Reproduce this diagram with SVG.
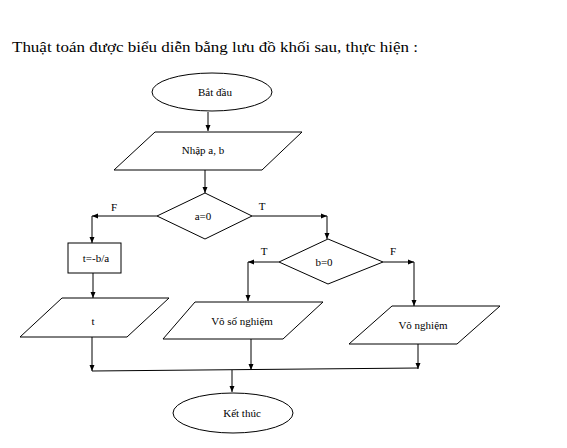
<svg xmlns="http://www.w3.org/2000/svg" width="567" height="448" viewBox="0 0 567 448">
<style>
.s{fill:#fff;stroke:#000;stroke-width:1}
.t{font-family:'Liberation Serif',serif;font-size:11px;fill:#000;text-anchor:middle}
.l{font-family:'Liberation Serif',serif;font-size:11px;fill:#000;text-anchor:middle}
.h{font-family:'Liberation Serif',serif;font-size:15px;fill:#000}
.c{fill:none;stroke:#000;stroke-width:1}
</style>
<defs>
<marker id="a" markerWidth="6" markerHeight="6" refX="6" refY="3" orient="auto" markerUnits="userSpaceOnUse">
<path d="M0,0.5 L6,3 L0,5.5 Z" fill="#000"/>
</marker>
</defs>
<rect width="567" height="448" fill="#fff"/>
<text class="h" x="12" y="52" textLength="406" lengthAdjust="spacingAndGlyphs">Thuật toán được biểu diễn bằng lưu đồ khối sau, thực hiện :</text>

<g id="connectors">
<path class="c" d="M208,112 V131" marker-end="url(#a)"/>
<path class="c" d="M205,170 V193" marker-end="url(#a)"/>
<path class="c" d="M157,216 H92"  marker-end="url(#a)"/>
<path class="c" d="M92,216 V243" marker-end="url(#a)"/>
<path class="c" d="M252,216 H327" marker-end="url(#a)"/>
<path class="c" d="M327,216 V239" marker-end="url(#a)"/>
<path class="c" d="M279,262 H248" marker-end="url(#a)"/>
<path class="c" d="M248,262 V301" marker-end="url(#a)"/>
<path class="c" d="M383,262 H414" marker-end="url(#a)"/>
<path class="c" d="M414,262 V306" marker-end="url(#a)"/>
<path class="c" d="M93,273 V298" marker-end="url(#a)"/>
<path class="c" d="M92,337 V371" marker-end="url(#a)"/>
<path class="c" d="M251,339 V370" marker-end="url(#a)"/>
<path class="c" d="M418,344 V369" marker-end="url(#a)"/>
<path class="c" d="M92,371 L418,368"/>
<path class="c" d="M232,370 V392" marker-end="url(#a)"/>
<text class="l" x="114" y="211">F</text>
<text class="l" x="262" y="210">T</text>
<text class="l" x="264" y="255">T</text>
<text class="l" x="393" y="255">F</text>
</g>

<g id="start">
<ellipse class="s" cx="212" cy="92" rx="60" ry="19"/>
<text class="t" x="215" y="96">Bắt đầu</text>
</g>
<g id="input">
<polygon class="s" points="155,132 302,132 262,170 114,170"/>
<text class="t" x="203" y="154">Nhập a, b</text>
</g>
<g id="cond-a">
<polygon class="s" points="205,193 252,216 205,239 157,216"/>
<text class="t" x="203" y="220">a=0</text>
</g>
<g id="assign">
<rect class="s" x="68" y="243" width="53" height="30"/>
<text class="t" x="96" y="262">t=-b/a</text>
</g>
<g id="cond-b">
<polygon class="s" points="328,239 383,262 328,284 279,262"/>
<text class="t" x="324" y="266">b=0</text>
</g>
<g id="out-t">
<polygon class="s" points="62,298 169,298 127,337 20,337"/>
<text class="t" x="93" y="325">t</text>
</g>
<g id="out-vsn">
<polygon class="s" points="195,302 323,302 283,339 163,339"/>
<text class="t" x="242" y="325">Vô số nghiệm</text>
</g>
<g id="out-vn">
<polygon class="s" points="392,306 500,306 457,344 349,344"/>
<text class="t" x="423" y="329">Vô nghiệm</text>
</g>
<g id="end">
<ellipse class="s" cx="233" cy="413" rx="60" ry="20"/>
<text class="t" x="242" y="417">Kết thúc</text>
</g>
</svg>
